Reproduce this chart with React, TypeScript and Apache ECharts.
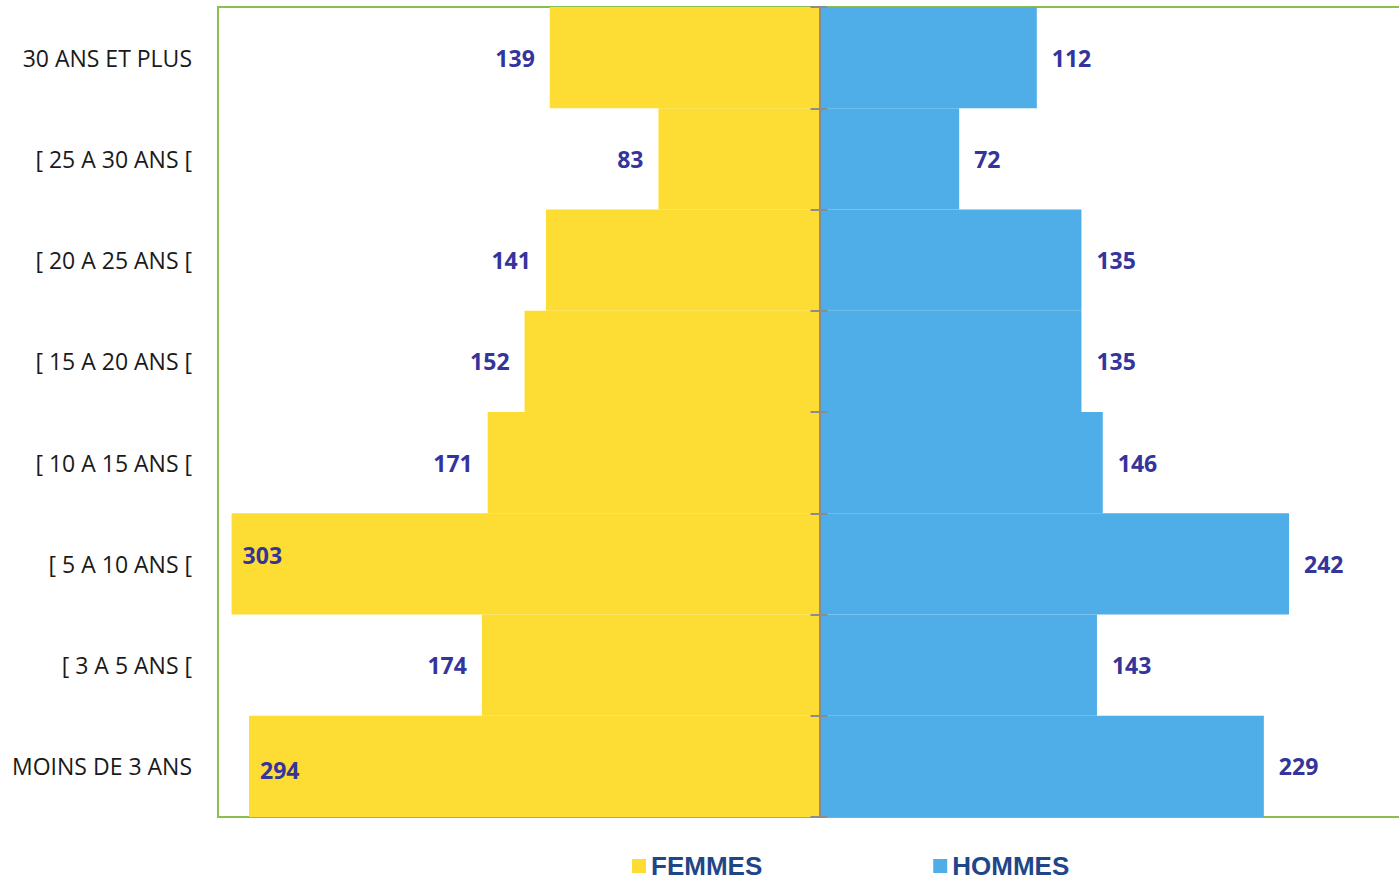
import React, { useEffect, useRef } from "react";
import * as echarts from "echarts";

const categories = [
  "MOINS DE 3 ANS",
  "[ 3 A 5 ANS [",
  "[ 5 A 10 ANS [",
  "[ 10 A 15 ANS [",
  "[ 15 A 20 ANS [",
  "[ 20 A 25 ANS [",
  "[ 25 A 30 ANS [",
  "30 ANS ET PLUS",
];
const femmes = [294, 174, 303, 171, 152, 141, 83, 139];
const hommes = [229, 143, 242, 146, 135, 135, 72, 112];

const YELLOW = "#fddc33";
const BLUE = "#4faee8";
const LABEL_COLOR = "#33349c";

export default function App() {
  const ref = useRef<HTMLDivElement>(null);
  useEffect(() => {
    if (!ref.current) return;
    const chart = echarts.init(ref.current, undefined, { renderer: "svg" });
    const valueLabel = {
      show: true,
      color: LABEL_COLOR,
      fontFamily: "Open Sans",
      fontWeight: "bold" as const,
      fontSize: 23,
      distance: 15,
    };
    const femmesData = femmes.map((v, i) => {
      const item: any = { value: -v };
      if (i === 2) {
        item.label = { position: "insideLeft", distance: 11, offset: [0, -9] };
      } else if (i === 0) {
        item.label = { position: "insideLeft", distance: 11, offset: [0, 4] };
      }
      return item;
    });
    const centerAxisBase = {
      type: "category" as const,
      data: categories,
      position: "left" as const,
      z: 10,
      axisLabel: { show: false },
      splitLine: { show: false },
      axisLine: {
        show: true,
        onZero: true,
        onZeroAxisIndex: 0,
        lineStyle: { color: "#8c8c8c", width: 2 },
      },
    };
    chart.setOption({
      animation: false,
      grid: {
        left: 218,
        width: 1203,
        top: 7,
        bottom: 65,
        show: true,
        borderColor: "#8cbd4f",
        borderWidth: 2,
        backgroundColor: "transparent",
        containLabel: false,
      },
      legend: {
        left: 627,
        top: 848,
        itemWidth: 14,
        itemHeight: 14,
        itemGap: 171,
        icon: "rect",
        textStyle: {
          color: "#1f4788",
          fontFamily: "Liberation Sans",
          fontWeight: "bold",
          fontSize: 26,
          lineHeight: 24,
        },
        data: ["FEMMES", "HOMMES"],
      },
      xAxis: {
        type: "value",
        min: -310,
        max: 310,
        show: false,
        splitLine: { show: false },
      },
      yAxis: [
        {
          type: "category",
          data: categories,
          position: "left",
          axisLine: { show: false, onZero: false },
          axisTick: { show: false },
          splitLine: { show: false },
          axisLabel: {
            margin: 26,
            color: "#1a1a1a",
            fontFamily: "Open Sans",
            fontSize: 23,
          },
        },
        {
          ...centerAxisBase,
          axisTick: { show: true, length: 9, lineStyle: { color: "#8c8c8c", width: 2 } },
        },
        {
          ...centerAxisBase,
          axisTick: { show: true, inside: true, length: 8, lineStyle: { color: "#8c8c8c", width: 2 } },
        },
      ],
      series: [
        {
          name: "FEMMES",
          type: "bar",
          stack: "pyr",
          yAxisIndex: 0,
          barCategoryGap: 0,
          itemStyle: { color: YELLOW },
          label: {
            ...valueLabel,
            position: "left",
            formatter: (p: any) => String(Math.abs(p.value)),
          },
          data: femmesData,
        },
        {
          name: "HOMMES",
          type: "bar",
          stack: "pyr",
          yAxisIndex: 0,
          barCategoryGap: 0,
          itemStyle: { color: BLUE },
          label: { ...valueLabel, position: "right" },
          data: hommes,
        },
      ],
    });
    return () => chart.dispose();
  }, []);
  return (
    <div
      style={{
        position: "fixed",
        left: 0,
        top: 0,
        width: 1399,
        height: 882,
        overflow: "hidden",
        background: "#ffffff",
      }}
    >
      <div ref={ref} style={{ width: 1440, height: 882 }} />
    </div>
  );
}
